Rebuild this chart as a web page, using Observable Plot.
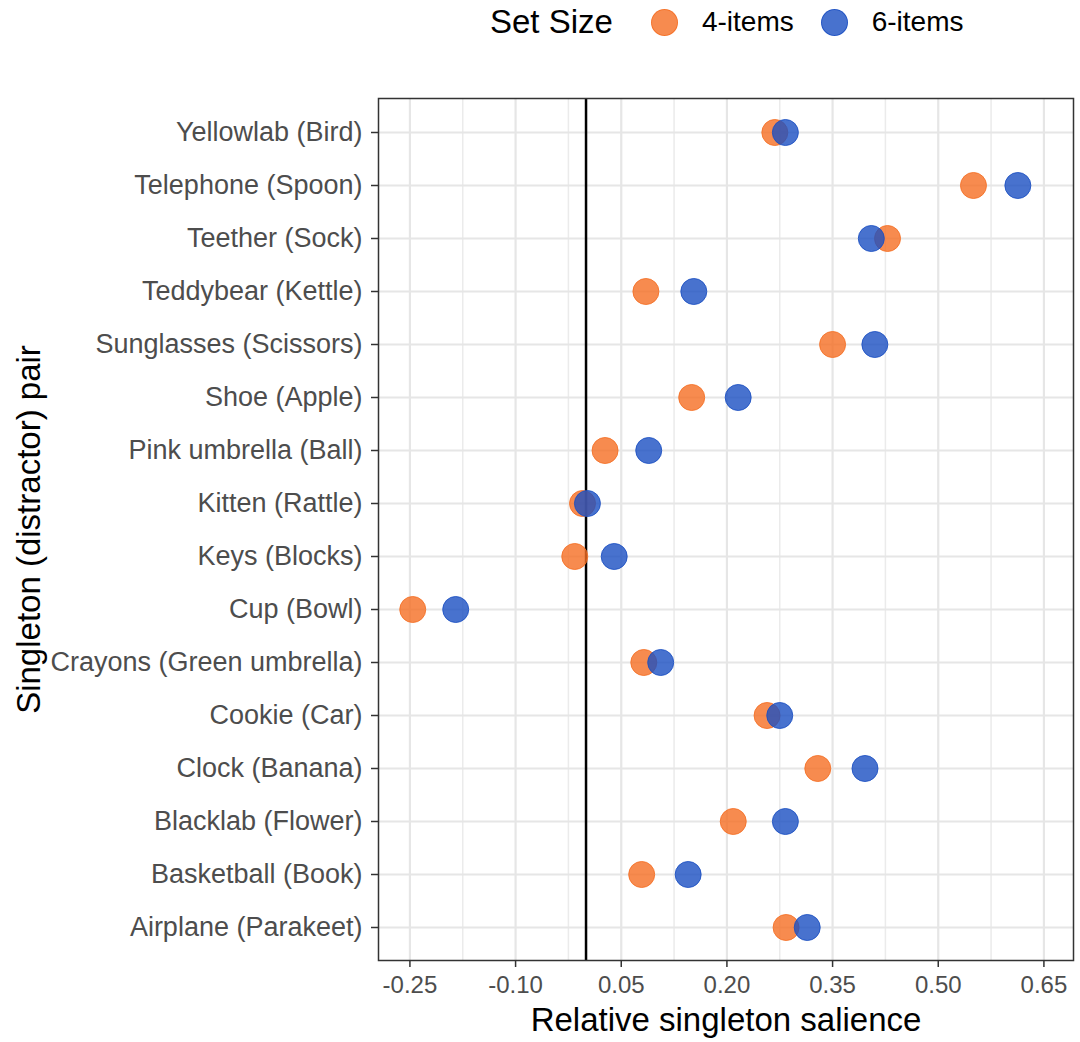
<!DOCTYPE html>
<html><head><meta charset="utf-8">
<script src="https://cdn.jsdelivr.net/npm/d3@7"></script>
<script src="https://cdn.jsdelivr.net/npm/@observablehq/plot@0.6"></script>
<style>
body{margin:0;background:#fff;font-family:"Liberation Sans",Arial,sans-serif;}
#legend{height:44px;display:flex;align-items:center;padding-left:490px;box-sizing:border-box;color:#000;}
#legend .title{font-size:33px;margin-right:38px;}
#legend .sw{width:27px;height:27px;border-radius:50%;box-sizing:border-box;margin-right:24px;}
#legend .lab{font-size:28px;margin-right:27px;}
</style></head><body>
<div id="legend"></div><div id="chart"></div>
<script>
const pairs = ["Yellowlab (Bird)","Telephone (Spoon)","Teether (Sock)","Teddybear (Kettle)","Sunglasses (Scissors)","Shoe (Apple)","Pink umbrella (Ball)","Kitten (Rattle)","Keys (Blocks)","Cup (Bowl)","Crayons (Green umbrella)","Cookie (Car)","Clock (Banana)","Blacklab (Flower)","Basketball (Book)","Airplane (Parakeet)"];
const set4 = [0.268,0.550,0.428,0.085,0.350,0.150,0.027,-0.005,-0.016,-0.246,0.082,0.257,0.329,0.209,0.079,0.284];
const set6 = [0.283,0.613,0.405,0.153,0.410,0.216,0.089,0.002,0.040,-0.185,0.106,0.275,0.396,0.283,0.145,0.314];
const xTicks = [-0.25,-0.10,0.05,0.20,0.35,0.50,0.65];
const setSizes = ["4-items","6-items"];
const colors = ["#F56E23","#1A4FC2"];

const minor = d3.pairs(xTicks, (a,b)=>(a+b)/2);
const data = pairs.flatMap((p,i)=>[{pair:p,set:setSizes[0],value:set4[i]},{pair:p,set:setSizes[1],value:set6[i]}]);

// legend
const leg = document.getElementById("legend");
const t = document.createElement("span"); t.className="title"; t.textContent="Set Size"; leg.appendChild(t);
setSizes.forEach((s,i)=>{
  const sw=document.createElement("span"); sw.className="sw";
  const c=d3.color(colors[i]); c.opacity=0.8;
  sw.style.background=c.formatRgb(); sw.style.border="1px solid "+c.formatRgb();
  leg.appendChild(sw);
  const l=document.createElement("span"); l.className="lab"; l.textContent=s; leg.appendChild(l);
});

const chart = Plot.plot({
  width:1080, height:998,
  marginTop:54, marginBottom:82, marginLeft:378, marginRight:7,
  style:{fontFamily:"'Liberation Sans', Arial, sans-serif", background:"white"},
  x:{domain:[-0.2946,0.692]},
  y:{type:"point", domain:pairs, padding:0.6},
  color:{domain:setSizes, range:colors},
  marks:[
    Plot.gridX(minor, {stroke:"#ebebeb", strokeOpacity:1, strokeWidth:1.5}),
    Plot.gridX(xTicks, {stroke:"#e6e6e6", strokeOpacity:1, strokeWidth:2.2}),
    Plot.gridY(pairs, {stroke:"#e6e6e6", strokeOpacity:1, strokeWidth:2.2}),
    Plot.ruleX([0], {stroke:"black", strokeWidth:2.5}),
    Plot.dot(data, {x:"value", y:"pair", fill:"set", stroke:"set", r:13, fillOpacity:0.8, strokeOpacity:0.85, strokeWidth:1}),
    Plot.frame({stroke:"#333", strokeWidth:1.5}),
    Plot.axisX(xTicks, {tickFormat:d=>d.toFixed(2), fontSize:24, fill:"#4d4d4d", stroke:"#333", strokeWidth:1.5, tickSize:7, tickPadding:8, label:null}),
    Plot.axisX({ticks:[], label:"Relative singleton salience", labelAnchor:"center", labelOffset:70, labelArrow:"none", fontSize:33, fill:"black"}),
    Plot.axisY({fontSize:27, fill:"#4d4d4d", stroke:"#333", strokeWidth:1.5, tickSize:7, tickPadding:9, label:null}),
    Plot.axisY({ticks:[], label:"Singleton (distractor) pair", labelAnchor:"center", labelOffset:362, labelArrow:"none", fontSize:33, fill:"black"})
  ]
});
document.getElementById("chart").appendChild(chart);
</script>
</body></html>
